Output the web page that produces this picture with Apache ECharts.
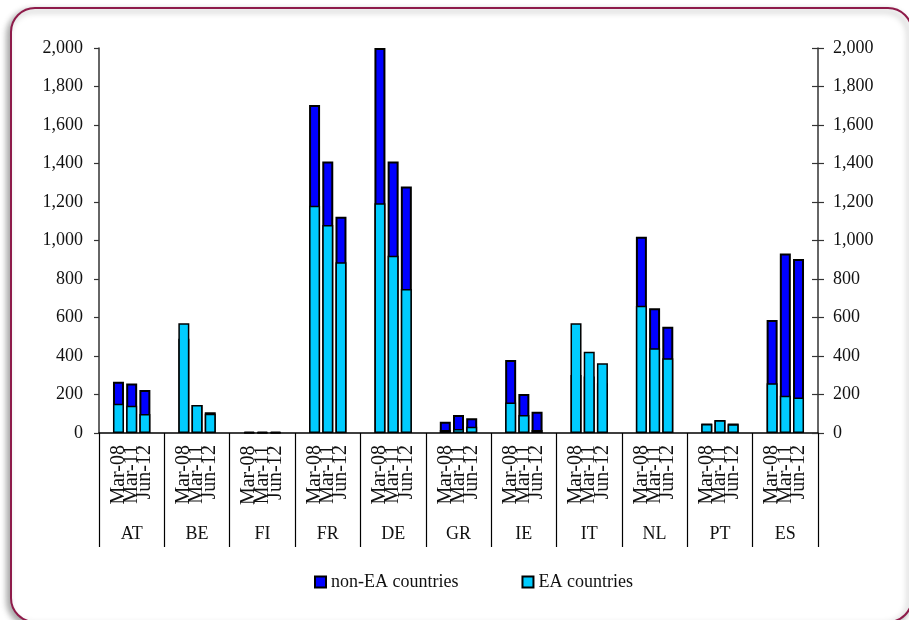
<!DOCTYPE html>
<html>
<head>
<meta charset="utf-8">
<script src="https://cdn.jsdelivr.net/npm/echarts@6/dist/echarts.min.js"></script>
<style>
  html, body { margin: 0; padding: 0; background: #fff; }
  #chart { width: 909px; height: 620px; }
</style>
</head>
<body>
<div id="chart"></div>
<script>
// Claims by reporting country, split into euro-area and non-euro-area counterparts
const countries = ['AT', 'BE', 'FI', 'FR', 'DE', 'GR', 'IE', 'IT', 'NL', 'PT', 'ES'];
const dates = ['Mar-08', 'Mar-11', 'Jun-12'];
const yTicks = { min: 0, max: 2000, interval: 200 };

// EA countries
const eaMar08 = [152, 570, 3, 1181, 1193, 16, 159, 570, 661, 47, 258];
const eaMar11 = [142, 145, 3, 1081, 921, 21, 94, 422, 440, 66, 194];
const eaJun12 = [99, 100, 3, 887, 748, 33, 16, 362, 388, 45, 185];

// non-EA countries (added on top of the EA part)
const nonEaMar08 = [114, -80, 3, 523, 807, 43, 220, -269, 359, 3, 329];
const nonEaMar11 = [115, 0, 3, 329, 489, 73, 109, -129, 208, 2, 739];
const nonEaJun12 = [124, 8, 3, 237, 532, 43, 95, -104, 164, 5, 719];

const eaSets = [eaMar08, eaMar11, eaJun12];
const nonEaSets = [nonEaMar08, nonEaMar11, nonEaJun12];

const FONT = 'Liberation Serif';
const BLUE = '#0000ff';
const CYAN = '#00ccff';

const chart = echarts.init(document.getElementById('chart'), null, { renderer: 'canvas' });

const barCommon = {
  type: 'bar',
  barWidth: 11,
  barGap: '20%',
  yAxisIndex: 0
};

const series = [];
// Back layer: full height (EA + non-EA) in blue
dates.forEach((d, i) => {
  series.push(Object.assign({}, barCommon, {
    name: 'non-EA countries',
    xAxisIndex: 0,
    itemStyle: { color: BLUE, borderColor: '#000', borderWidth: 2 },
    data: eaSets[i].map((v, k) => v + nonEaSets[i][k])
  }));
});
// Front layer: EA part in cyan, with the date written under each bar
dates.forEach((d, i) => {
  series.push(Object.assign({}, barCommon, {
    name: 'EA countries',
    xAxisIndex: 1,
    itemStyle: { color: CYAN, borderColor: '#000', borderWidth: 1.5 },
    label: {
      show: true,
      position: 'bottom',
      distance: 12,
      rotate: 90,
      align: 'right',
      verticalAlign: 'middle',
      formatter: () => d,
      fontFamily: FONT,
      fontSize: 20,
      color: '#111'
    },
    data: eaSets[i]
  }));
});

const yLabel = v => v.toLocaleString('en-US');

chart.setOption({
  animation: false,
  backgroundColor: '#fff',
  graphic: [{
    type: 'rect',
    z: -10,
    shape: { x: 11, y: 8, width: 901, height: 614, r: 24 },
    style: {
      fill: '#fff',
      stroke: '#8e1b4a',
      lineWidth: 2,
      shadowColor: 'rgba(0,0,0,0.35)',
      shadowBlur: 6,
      shadowOffsetX: -3,
      shadowOffsetY: 3
    }
  }],
  grid: { left: 99, right: 91, top: 48, bottom: 187 },
  legend: {
    left: 309,
    top: 568,
    icon: 'rect',
    itemWidth: 11,
    itemHeight: 11,
    itemGap: 63,
    data: ['non-EA countries', 'EA countries'],
    textStyle: { fontFamily: FONT, fontSize: 18, color: '#111' }
  },
  xAxis: [{
    type: 'category',
    data: countries,
    axisLine: { lineStyle: { color: '#000', width: 1.5 } },
    axisTick: { show: true, length: 114, interval: 0, lineStyle: { color: '#000', width: 1.2 } },
    axisLabel: { margin: 92, fontFamily: FONT, fontSize: 18, color: '#111', interval: 0 }
  }, {
    type: 'category',
    data: countries,
    show: false
  }],
  yAxis: [{
    type: 'value',
    position: 'left',
    min: yTicks.min, max: yTicks.max, interval: yTicks.interval,
    splitLine: { show: false },
    axisLine: { show: true, lineStyle: { color: '#333', width: 1.5 } },
    axisTick: { show: true, length: 5, lineStyle: { color: '#333', width: 1.2 } },
    axisLabel: { margin: 16, fontFamily: FONT, fontSize: 18, color: '#111', formatter: yLabel }
  }, {
    type: 'value',
    position: 'right',
    min: yTicks.min, max: yTicks.max, interval: yTicks.interval,
    splitLine: { show: false },
    axisLine: { show: true, lineStyle: { color: '#333', width: 1.5 } },
    axisTick: { show: true, length: 6, lineStyle: { color: '#333', width: 1.2 } },
    axisLabel: { margin: 15, fontFamily: FONT, fontSize: 18, color: '#111', formatter: yLabel }
  }, {
    type: 'value',
    position: 'right',
    offset: 0,
    min: yTicks.min, max: yTicks.max, interval: yTicks.interval,
    splitLine: { show: false },
    axisLine: { show: false },
    axisTick: { show: true, inside: true, length: 6, lineStyle: { color: '#333', width: 1.2 } },
    axisLabel: { show: false }
  }],
  series: series
});
</script>
</body>
</html>
